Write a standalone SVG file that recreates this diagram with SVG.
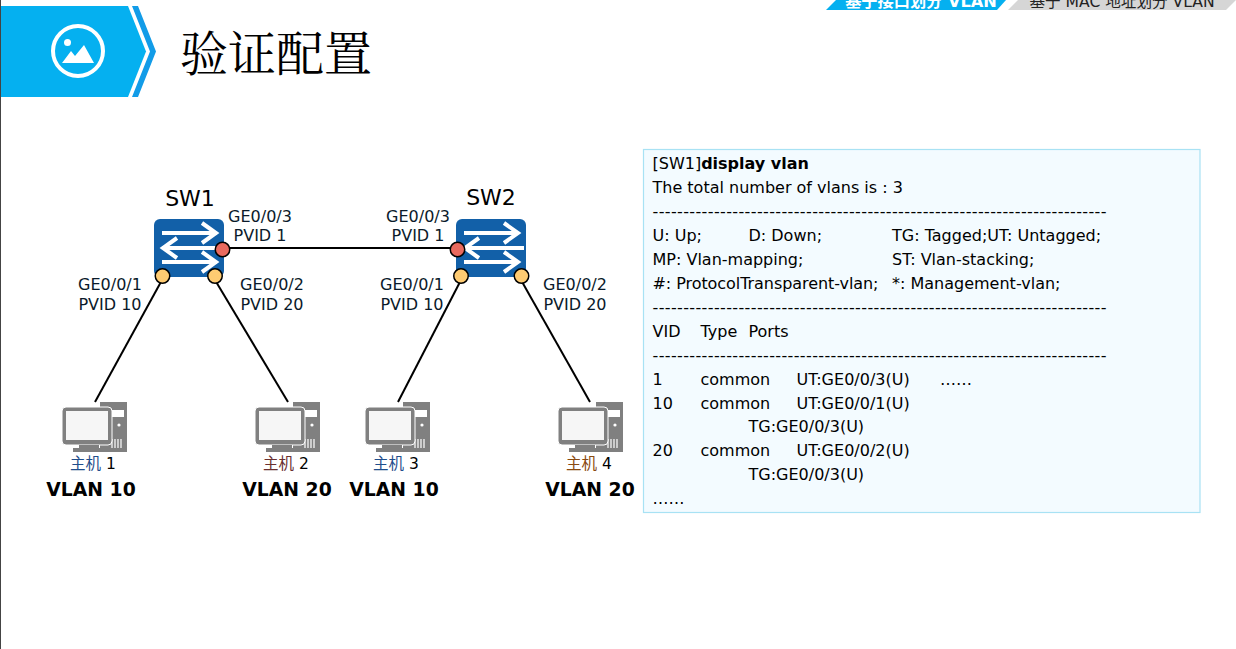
<svg xmlns="http://www.w3.org/2000/svg" width="1236" height="649" viewBox="0 0 1236 649">
<style>
text{font-family:"DejaVu Sans","Noto Sans CJK SC",sans-serif;fill:#000}
.p{font-size:16px;text-anchor:middle;fill:#0a1a2a}
.n{font-size:22px;text-anchor:middle}
.v{font-size:18.800px;font-weight:bold;text-anchor:middle}
.h{font-size:15.500px;text-anchor:middle}
.t{font-size:16px}
.c{stroke:#000;stroke-width:2;fill:none}
.a{stroke:#fff;stroke-width:4;fill:none}
.r{fill:#e86a5f;stroke:#000;stroke-width:1.500}
.y{fill:#fecb72;stroke:#000;stroke-width:1.500}
</style>
<defs>
<g id="sw">
<rect x="0" y="0" width="70" height="58" rx="6" fill="#1260a8"/>
<path class="a" d="M8 14H61M48 4L62 14L48 24M68 29H10M23 19L9 29L23 39M8 43H61M48 33L62 43L48 53"/>
</g>
<g id="pc">
<path d="M38 0H65V50H38Z" fill="#808080"/>
<rect x="41" y="8" width="21" height="7" fill="#fff"/>
<circle cx="57" cy="23" r="1.600" fill="#fff"/>
<path d="M50 46V37M53 46V37M56 46V37M59 46V37" stroke="#fff" stroke-width="1.200"/>
<rect x="11" y="46" width="28" height="4" fill="#808080"/>
<rect x="0" y="5" width="50" height="38" rx="4" fill="#808080" stroke="#fff" stroke-width="1"/>
<rect x="4" y="9" width="42" height="29" fill="#f6f6f6"/>
<rect x="17" y="43" width="20" height="3" fill="#808080"/>
</g>
</defs>
<rect width="1236" height="649" fill="#fff"/>
<rect x="0" y="0" width="1" height="649" fill="#444"/>
<g id="header">
<path d="M1 6H128L146 51.500L128 97H1Z" fill="#05b0f0"/>
<path d="M132 6H138L156 51.500L138 97H132L150 51.500Z" fill="#129ce8"/>
<circle cx="78" cy="51" r="25" fill="none" stroke="#fff" stroke-width="4"/>
<circle cx="67.500" cy="42.500" r="3.500" fill="#fff"/>
<path d="M62 63L71 51L75 56L84 45L94 63Z" fill="#fff"/>
<text x="180" y="71" font-size="48" style="font-family:'Noto Serif CJK SC','AR PL UMing CN','Noto Sans CJK SC',serif">验证配置</text>
</g>
<g id="tabs">
<path d="M826 10L836 0H1006L997 10Z" fill="#05b0f0"/>
<path d="M1008 10L1018 0H1236L1226 10Z" fill="#d6d6d6"/>
<text x="921" y="7" font-size="16.200" font-weight="bold" text-anchor="middle" style="fill:#fff">基于接口划分 VLAN</text>
<text x="1122" y="7" font-size="15.600" text-anchor="middle" style="fill:#222">基于 MAC 地址划分 VLAN</text>
</g>
<g id="connectors">
<path class="c" d="M222 248H457"/>
<path class="c" d="M162 280L95 402"/>
<path class="c" d="M215 280L288 402"/>
<path class="c" d="M461 280L398 402"/>
<path class="c" d="M521 280L590 402"/>
</g>
<g id="SW1">
<use href="#sw" x="154" y="219"/>
<circle class="r" cx="222.500" cy="249.500" r="7.250"/>
<circle class="y" cx="162.500" cy="276" r="7.250"/>
<circle class="y" cx="215" cy="276" r="7.250"/>
<text class="n" x="190" y="206">SW1</text>
<text class="p" x="260" y="222">GE0/0/3</text>
<text class="p" x="260" y="241">PVID 1</text>
<text class="p" x="110" y="290">GE0/0/1</text>
<text class="p" x="110" y="310">PVID 10</text>
<text class="p" x="272" y="290">GE0/0/2</text>
<text class="p" x="272" y="310">PVID 20</text>
</g>
<g id="SW2">
<use href="#sw" x="456" y="219"/>
<circle class="r" cx="457.500" cy="249.500" r="7.250"/>
<circle class="y" cx="461" cy="276" r="7.250"/>
<circle class="y" cx="521.500" cy="276" r="7.250"/>
<text class="n" x="491" y="205">SW2</text>
<text class="p" x="418" y="222">GE0/0/3</text>
<text class="p" x="418" y="241">PVID 1</text>
<text class="p" x="412" y="290">GE0/0/1</text>
<text class="p" x="412" y="310">PVID 10</text>
<text class="p" x="575" y="290">GE0/0/2</text>
<text class="p" x="575" y="310">PVID 20</text>
</g>
<g id="host1"><use href="#pc" x="62" y="402"/><text class="h" x="93" y="469"><tspan style="fill:#1f4e8c">主机</tspan> 1</text><text class="v" x="91" y="496">VLAN 10</text></g>
<g id="host2"><use href="#pc" x="255" y="402"/><text class="h" x="286" y="469"><tspan style="fill:#6a3030">主机</tspan> 2</text><text class="v" x="287" y="496">VLAN 20</text></g>
<g id="host3"><use href="#pc" x="365" y="402"/><text class="h" x="396" y="469"><tspan style="fill:#1f4e8c">主机</tspan> 3</text><text class="v" x="394" y="496">VLAN 10</text></g>
<g id="host4"><use href="#pc" x="558" y="402"/><text class="h" x="589" y="469"><tspan style="fill:#8a4a10">主机</tspan> 4</text><text class="v" x="590" y="496">VLAN 20</text></g>
<g id="panel">
<rect x="643.500" y="149.500" width="556.500" height="363" fill="#f3fbff" stroke="#a8e2f4" stroke-width="1.200"/>
<text class="t" x="652.500" y="169">[SW1]<tspan font-weight="bold">display vlan</tspan></text>
<text class="t" x="652.500" y="193">The total number of vlans is : 3</text>
<text class="t" x="652.500" y="217" textLength="454">--------------------------------------------------------------------------</text>
<text class="t" x="652.500" y="241">U: Up;</text><text class="t" x="748.500" y="241">D: Down;</text><text class="t" x="892" y="241">TG: Tagged;UT: Untagged;</text>
<text class="t" x="652.500" y="265">MP: Vlan-mapping;</text><text class="t" x="892" y="265">ST: Vlan-stacking;</text>
<text class="t" x="652.500" y="289" textLength="226">#: ProtocolTransparent-vlan;</text><text class="t" x="892" y="289">*: Management-vlan;</text>
<text class="t" x="652.500" y="313" textLength="454">--------------------------------------------------------------------------</text>
<text class="t" x="652.500" y="337">VID</text><text class="t" x="700.500" y="337">Type</text><text class="t" x="748.500" y="337">Ports</text>
<text class="t" x="652.500" y="361" textLength="454">--------------------------------------------------------------------------</text>
<text class="t" x="652.500" y="385">1</text><text class="t" x="700.500" y="385">common</text><text class="t" x="796.500" y="385">UT:GE0/0/3(U)</text><text class="t" x="940" y="385">……</text>
<text class="t" x="652.500" y="409">10</text><text class="t" x="700.500" y="409">common</text><text class="t" x="796.500" y="409">UT:GE0/0/1(U)</text>
<text class="t" x="748.500" y="432">TG:GE0/0/3(U)</text>
<text class="t" x="652.500" y="456">20</text><text class="t" x="700.500" y="456">common</text><text class="t" x="796.500" y="456">UT:GE0/0/2(U)</text>
<text class="t" x="748.500" y="480">TG:GE0/0/3(U)</text>
<text class="t" x="652.500" y="504">……</text>
</g>
</svg>
